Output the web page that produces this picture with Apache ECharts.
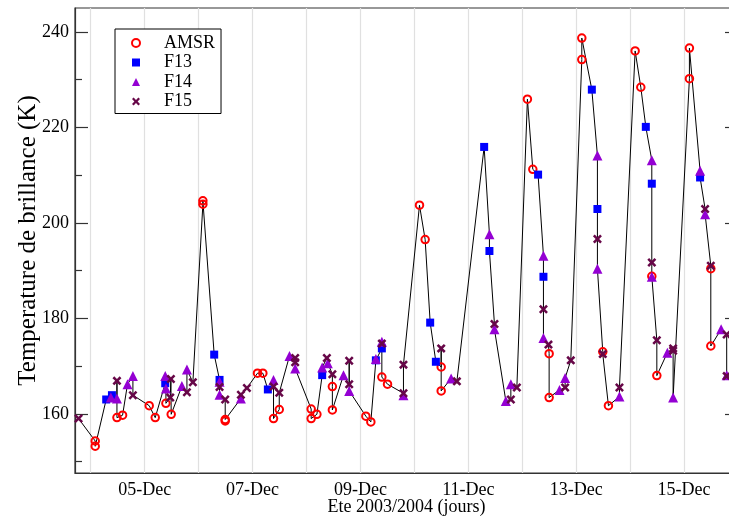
<!DOCTYPE html>
<html>
<head>
<meta charset="utf-8">
<script src="https://cdn.jsdelivr.net/npm/echarts@6/dist/echarts.min.js"></script>
<style>
  html, body { margin: 0; padding: 0; background: #fff; }
  #chart { width: 729px; height: 520px; }
</style>
</head>
<body>
<div id="chart"></div>
<script>
// Brightness temperature (K), summer 2003/2004, by sensor: [local time, value]
const amsr = [
  ['2003-12-04 02:00', 154.3], ['2003-12-04 02:00', 153.2], ['2003-12-04 11:40', 159.2], ['2003-12-04 14:10', 159.7],
  ['2003-12-05 02:01', 161.7], ['2003-12-05 04:42', 159.2], ['2003-12-05 09:27', 162.2], ['2003-12-05 11:48', 159.9],
  ['2003-12-06 01:54', 204.6], ['2003-12-06 01:54', 203.9], ['2003-12-06 11:50', 158.8], ['2003-12-06 11:50', 158.5],
  ['2003-12-07 02:12', 168.5], ['2003-12-07 04:35', 168.5], ['2003-12-07 09:20', 159.0], ['2003-12-07 11:53', 160.9],
  ['2003-12-08 02:05', 161.0], ['2003-12-08 02:05', 159.0], ['2003-12-08 04:38', 159.9], ['2003-12-08 11:31', 165.7],
  ['2003-12-08 11:31', 160.8],
  ['2003-12-09 02:25', 159.5], ['2003-12-09 04:38', 158.3], ['2003-12-09 09:32', 167.7], ['2003-12-09 12:03', 166.2],
  ['2003-12-10 02:17', 203.7], ['2003-12-10 04:48', 196.5], ['2003-12-10 11:56', 169.8], ['2003-12-10 11:56', 164.8],
  ['2003-12-12 02:18', 225.9], ['2003-12-12 04:42', 211.2], ['2003-12-12 11:58', 172.6], ['2003-12-12 11:58', 163.4],
  ['2003-12-13 02:30', 238.7], ['2003-12-13 02:30', 234.2], ['2003-12-13 11:50', 173.0], ['2003-12-13 14:21', 161.7],
  ['2003-12-14 02:14', 236.0], ['2003-12-14 04:45', 228.4], ['2003-12-14 09:39', 188.8], ['2003-12-14 11:53', 168.0],
  ['2003-12-15 02:23', 236.6], ['2003-12-15 02:23', 230.2], ['2003-12-15 11:54', 190.4], ['2003-12-15 11:54', 174.2]
];
const f13 = [
  ['2003-12-04 06:53', 163.0], ['2003-12-04 09:26', 163.9], ['2003-12-05 09:09', 166.4], ['2003-12-06 06:56', 172.4],
  ['2003-12-06 09:19', 167.1], ['2003-12-07 06:49', 165.1], ['2003-12-08 06:59', 168.1], ['2003-12-09 06:52', 171.2],
  ['2003-12-09 09:32', 173.7], ['2003-12-10 07:02', 179.1], ['2003-12-10 09:34', 170.9], ['2003-12-11 07:03', 215.9],
  ['2003-12-11 09:24', 194.1], ['2003-12-12 07:03', 210.1], ['2003-12-12 09:26', 188.7], ['2003-12-13 06:58', 227.9],
  ['2003-12-13 09:27', 202.9], ['2003-12-14 06:59', 220.1], ['2003-12-14 09:39', 208.2], ['2003-12-15 07:08', 209.5]
];
const f14 = [
  ['2003-12-04 08:58', 163.4], ['2003-12-04 11:40', 163.2], ['2003-12-04 16:22', 166.2], ['2003-12-04 18:46', 167.9],
  ['2003-12-05 09:09', 167.9], ['2003-12-05 09:27', 165.3], ['2003-12-05 16:34', 165.8], ['2003-12-05 18:48', 169.3],
  ['2003-12-06 09:19', 166.7], ['2003-12-06 09:19', 164.0], ['2003-12-06 18:49', 163.2], ['2003-12-07 09:20', 167.1],
  ['2003-12-07 16:26', 172.1], ['2003-12-07 18:58', 169.5], ['2003-12-08 06:59', 169.7], ['2003-12-08 09:30', 170.6],
  ['2003-12-08 16:28', 168.1], ['2003-12-08 19:00', 164.8], ['2003-12-09 06:52', 171.5], ['2003-12-09 09:32', 175.1],
  ['2003-12-09 19:09', 163.9], ['2003-12-10 16:22', 167.4], ['2003-12-11 09:24', 197.6], ['2003-12-11 11:38', 177.7],
  ['2003-12-11 16:42', 162.7], ['2003-12-11 18:56', 166.2], ['2003-12-12 09:26', 193.1], ['2003-12-12 09:26', 175.9],
  ['2003-12-12 16:34', 165.0], ['2003-12-12 19:05', 167.5], ['2003-12-13 09:27', 214.1], ['2003-12-13 09:27', 190.4],
  ['2003-12-13 19:15', 163.6], ['2003-12-14 09:39', 213.1], ['2003-12-14 09:39', 188.7], ['2003-12-14 16:34', 172.8],
  ['2003-12-14 19:08', 163.4], ['2003-12-15 07:08', 210.9], ['2003-12-15 09:22', 201.8], ['2003-12-15 16:29', 177.7],
  ['2003-12-15 18:58', 168.1]
];
const f15 = [
  ['2003-12-03 18:35', 159.0], ['2003-12-04 11:40', 166.9], ['2003-12-04 18:46', 163.9], ['2003-12-05 11:23', 163.4],
  ['2003-12-05 11:40', 167.3], ['2003-12-05 18:48', 164.5], ['2003-12-05 21:27', 166.6], ['2003-12-06 09:19', 165.6],
  ['2003-12-06 11:50', 163.0], ['2003-12-06 18:49', 164.0], ['2003-12-06 21:29', 165.4], ['2003-12-07 09:20', 165.7],
  ['2003-12-07 11:53', 164.4], ['2003-12-07 18:58', 171.7], ['2003-12-07 18:58', 170.8], ['2003-12-08 09:04', 171.7],
  ['2003-12-08 11:31', 168.3], ['2003-12-08 19:00', 171.1], ['2003-12-08 19:00', 166.2], ['2003-12-09 09:32', 174.7],
  ['2003-12-09 19:09', 170.3], ['2003-12-09 19:09', 164.3], ['2003-12-10 11:56', 173.7], ['2003-12-10 18:55', 166.8],
  ['2003-12-11 11:38', 178.8], ['2003-12-11 18:56', 163.0], ['2003-12-11 21:36', 165.5], ['2003-12-12 09:26', 181.9],
  ['2003-12-12 11:40', 174.5], ['2003-12-12 19:05', 165.5], ['2003-12-12 21:36', 171.2], ['2003-12-13 09:27', 196.6],
  ['2003-12-13 11:50', 172.5], ['2003-12-13 19:15', 165.5], ['2003-12-14 09:39', 191.7], ['2003-12-14 11:53', 175.4],
  ['2003-12-14 19:08', 173.7], ['2003-12-14 19:08', 173.2], ['2003-12-15 09:22', 202.9], ['2003-12-15 11:54', 191.0],
  ['2003-12-15 18:58', 176.6], ['2003-12-15 18:58', 167.9]
];

const sensorNames = ['AMSR', 'F13', 'F14', 'F15'];
const yMajorTicks = [160, 180, 200, 220, 240];
const yMinorTicks = [150, 170, 190, 210, 230];
const monthNames = ['Jan', 'Feb', 'Mar', 'Apr', 'May', 'Jun', 'Jul', 'Aug', 'Sep', 'Oct', 'Nov', 'Dec'];

// 'yyyy-MM-dd HH:mm' -> local timestamp (ms)
function toTime(s) {
  const m = s.match(/(\d+)-(\d+)-(\d+) (\d+):(\d+)/);
  return new Date(+m[1], +m[2] - 1, +m[3], +m[4], +m[5]).getTime();
}
const asPoints = arr => arr.map(p => [toTime(p[0]), p[1]]);

const seriesPoints = [amsr, f13, f14, f15].map(asPoints);

// All observations joined in time order; simultaneous readings are chained
// starting from the one nearest to the previous value.
function chain(all) {
  const sorted = all.slice().sort((a, b) => a[0] - b[0]);
  const out = [];
  let i = 0;
  while (i < sorted.length) {
    let j = i;
    while (j < sorted.length && sorted[j][0] === sorted[i][0]) j++;
    const group = sorted.slice(i, j);
    const prev = out.length ? out[out.length - 1][1] : group[0][1];
    group.sort((a, b) => Math.abs(a[1] - prev) - Math.abs(b[1] - prev));
    out.push(...group);
    i = j;
  }
  return out;
}
const trace = chain([].concat(...seriesPoints));

const xMin = new Date(2003, 11, 3, 17, 0).getTime();
const xMax = new Date(2003, 11, 16, 0, 0).getTime();
const dayTicks = [];
for (let d = 4; d <= 15; d++) dayTicks.push(new Date(2003, 11, d).getTime());
const dayLabels = dayTicks.filter(t => new Date(t).getDate() % 2 === 1);

const FONT = '"Liberation Serif", "Times New Roman", serif';
const AXIS_COLOR = '#333';

const crossPath = 'path://M0,2 L2,0 L5,3 L8,0 L10,2 L7,5 L10,8 L8,10 L5,7 L2,10 L0,8 L3,5 Z';

const chart = echarts.init(document.getElementById('chart'), null, { renderer: 'canvas' });

const yBase = { type: 'value', min: 147.6, max: 245, splitLine: { show: false } };

chart.setOption({
  animation: false,
  backgroundColor: '#fff',
  grid: {
    left: 75, top: 8, right: -9, bottom: 47,
    outerBoundsMode: 'none',
    containLabel: false,
    show: true, borderColor: AXIS_COLOR, borderWidth: 1.2, backgroundColor: 'transparent'
  },
  legend: {
    data: sensorNames,
    orient: 'vertical',
    left: 115, top: 29,
    padding: [5, 6, 3, 16],
    itemGap: 1.5,
    itemWidth: 8, itemHeight: 8,
    backgroundColor: '#fff',
    borderColor: '#000', borderWidth: 1, borderRadius: 0,
    textStyle: { fontFamily: FONT, fontSize: 18, color: '#000', lineHeight: 18, padding: [0, 0, 0, 19] }
  },
  xAxis: {
    type: 'value',
    min: xMin, max: xMax,
    name: 'Ete 2003/2004 (jours)',
    nameLocation: 'middle',
    nameGap: 25,
    nameMoveOverlap: false,
    nameTextStyle: { fontFamily: FONT, fontSize: 18, color: '#000' },
    axisLine: { show: true, onZero: false, lineStyle: { color: AXIS_COLOR, width: 1.2 } },
    axisTick: { show: false, customValues: dayTicks },
    splitLine: { show: true, lineStyle: { color: '#e0e0e0', width: 1.2 } },
    axisLabel: {
      customValues: dayLabels,
      fontFamily: FONT, fontSize: 18, color: '#000', margin: 8,
      formatter: v => {
        const dt = new Date(v);
        return String(dt.getDate()).padStart(2, '0') + '-' + monthNames[dt.getMonth()];
      }
    }
  },
  yAxis: [
    Object.assign({}, yBase, {
      position: 'left',
      name: 'Temperature de brillance (K)',
      nameLocation: 'middle',
      nameGap: 34,
      nameMoveOverlap: false,
      nameTextStyle: { fontFamily: FONT, fontSize: 25, color: '#000' },
      axisLine: { show: true, onZero: false, lineStyle: { color: AXIS_COLOR, width: 1.2 } },
      axisTick: { show: true, inside: true, length: 13, customValues: yMajorTicks, lineStyle: { color: AXIS_COLOR, width: 1.2 } },
      axisLabel: { customValues: yMajorTicks, fontFamily: FONT, fontSize: 18, color: '#000', margin: 6 }
    }),
    Object.assign({}, yBase, {
      position: 'left',
      axisLine: { show: false },
      axisTick: { show: true, inside: true, length: 7, customValues: yMinorTicks, lineStyle: { color: AXIS_COLOR, width: 1.2 } },
      axisLabel: { show: false }
    }),
    Object.assign({}, yBase, {
      position: 'right',
      axisLine: { show: true, onZero: false, lineStyle: { color: AXIS_COLOR, width: 1.2 } },
      axisTick: { show: true, inside: true, length: 13, customValues: yMajorTicks, lineStyle: { color: AXIS_COLOR, width: 1.2 } },
      axisLabel: { show: false }
    })
  ],
  series: [
    {
      name: 'trace', type: 'line', data: trace, yAxisIndex: 0,
      symbol: 'none', silent: true, z: 1,
      lineStyle: { color: '#000', width: 1 }
    },
    {
      name: 'AMSR', type: 'scatter', data: seriesPoints[0], z: 2,
      symbol: 'circle', symbolSize: 7.5,
      itemStyle: { color: 'transparent', borderColor: '#ff0000', borderWidth: 2, opacity: 1 }
    },
    {
      name: 'F13', type: 'scatter', data: seriesPoints[1], z: 3,
      symbol: 'rect', symbolSize: 8,
      itemStyle: { color: '#0000ff', opacity: 1 }
    },
    {
      name: 'F14', type: 'scatter', data: seriesPoints[2], z: 4,
      symbol: 'triangle', symbolSize: 10,
      itemStyle: { color: '#9400d3', opacity: 1 }
    },
    {
      name: 'F15', type: 'scatter', data: seriesPoints[3], z: 5,
      symbol: crossPath, symbolSize: 9,
      itemStyle: { color: '#670748', opacity: 1 }
    }
  ]
});
</script>
</body>
</html>
